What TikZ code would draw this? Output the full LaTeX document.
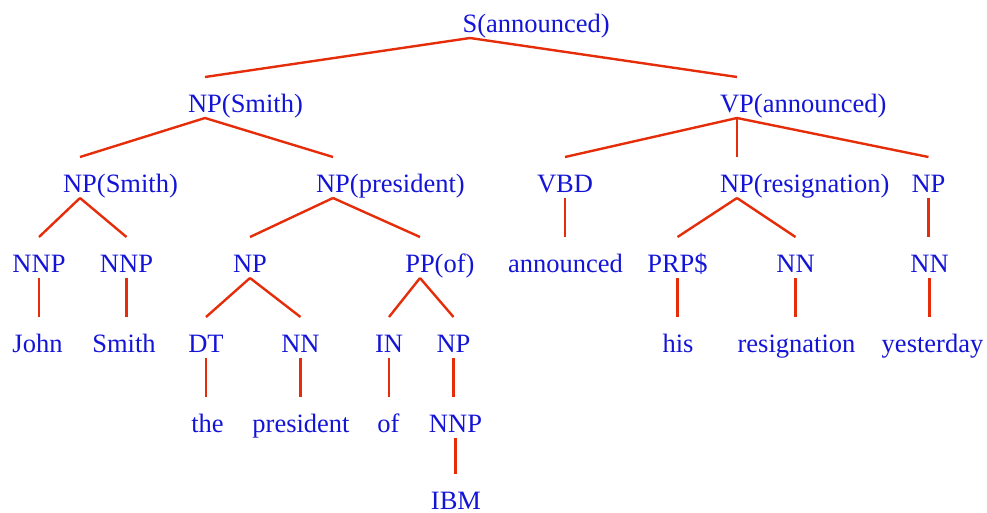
\documentclass[tikz,border=0pt]{standalone}
\usepackage{fontspec}
\setmainfont{Liberation Serif}
\usetikzlibrary{calc}
\definecolor{labelblue}{RGB}{20,20,215}
\definecolor{edgered}{RGB}{230,45,10}
\tikzset{
  tn/.style={anchor=base, inner sep=0pt, outer sep=0pt, text=labelblue,
             font=\fontsize{26.5}{30}\selectfont},
  edge/.style={draw=edgered, line width=2.4pt},
}
% category label with its head word set to the right of it;
% the node itself only spans the category, so edges meet its centre
\newcommand{\cathead}[2]{#1\rlap{(#2)}}
% slanted connector: from below the parent down to above the child
\newcommand{\tedge}[2]{\draw[edge] ([yshift=-6pt]#1.base) -- ([yshift=35pt]#2.base);}
% vertical connector: straight down from the parent
\newcommand{\vedge}[2]{\draw[edge] ([yshift=-6pt]#1.base) -- ($(#1.base |- #2.base)+(0,35pt)$);}
\begin{document}
\begin{tikzpicture}[x=1pt, y=-1pt]
\useasboundingbox (0,0) rectangle (987,512);

% row 1
\node[tn] (s) at (470,32) {\cathead{S}{announced}};
% row 2
\node[tn] (npa) at (205,112) {\cathead{NP}{Smith}};
\node[tn] (vp) at (737,112) {\cathead{VP}{announced}};
% row 3
\node[tn] (npb) at (80,192) {\cathead{NP}{Smith}};
\node[tn] (npc) at (333,192) {\cathead{NP}{president}};
\node[tn] (vbd) at (565,192) {VBD};
\node[tn] (npd) at (737,192) {\cathead{NP}{resignation}};
\node[tn] (npe) at (928.5,192) {NP};
% row 4
\node[tn] (nnpa) at (39,272) {NNP};
\node[tn] (nnpb) at (126.5,272) {NNP};
\node[tn] (npf) at (250,272) {NP};
\node[tn] (pp) at (420,272) {\cathead{PP}{of}};
\node[tn] (wann) at (565.5,272) {announced};
\node[tn] (prp) at (677.5,272) {PRP\$};
\node[tn] (nna) at (795.5,272) {NN};
\node[tn] (nnb) at (929.5,272) {NN};
% row 5
\node[tn] (wjohn) at (37.5,352) {John};
\node[tn] (wsmith) at (124,352) {Smith};
\node[tn] (dt) at (206,352) {DT};
\node[tn] (nnc) at (300.5,352) {NN};
\node[tn] (in) at (389,352) {IN};
\node[tn] (npg) at (453.5,352) {NP};
\node[tn] (whis) at (678,352) {his};
\node[tn] (wres) at (796.5,352) {resignation};
\node[tn] (wyest) at (932.5,352) {yesterday};
% row 6
\node[tn] (wthe) at (207.5,432) {the};
\node[tn] (wpres) at (301,432) {president};
\node[tn] (wof) at (388.5,432) {of};
\node[tn] (nnpc) at (455.5,432) {NNP};
% row 7
\node[tn] (wibm) at (456,509) {IBM};

% connectors
\tedge{s}{npa}
\tedge{s}{vp}
\tedge{npa}{npb}
\tedge{npa}{npc}
\tedge{vp}{vbd}
\vedge{vp}{npd}
\tedge{vp}{npe}
\tedge{npb}{nnpa}
\tedge{npb}{nnpb}
\tedge{npc}{npf}
\tedge{npc}{pp}
\vedge{vbd}{wann}
\tedge{npd}{prp}
\tedge{npd}{nna}
\vedge{npe}{nnb}
\vedge{nnpa}{wjohn}
\vedge{nnpb}{wsmith}
\tedge{npf}{dt}
\tedge{npf}{nnc}
\tedge{pp}{in}
\tedge{pp}{npg}
\vedge{prp}{whis}
\vedge{nna}{wres}
\vedge{nnb}{wyest}
\vedge{dt}{wthe}
\vedge{nnc}{wpres}
\vedge{in}{wof}
\vedge{npg}{nnpc}
\vedge{nnpc}{wibm}
\end{tikzpicture}
\end{document}
